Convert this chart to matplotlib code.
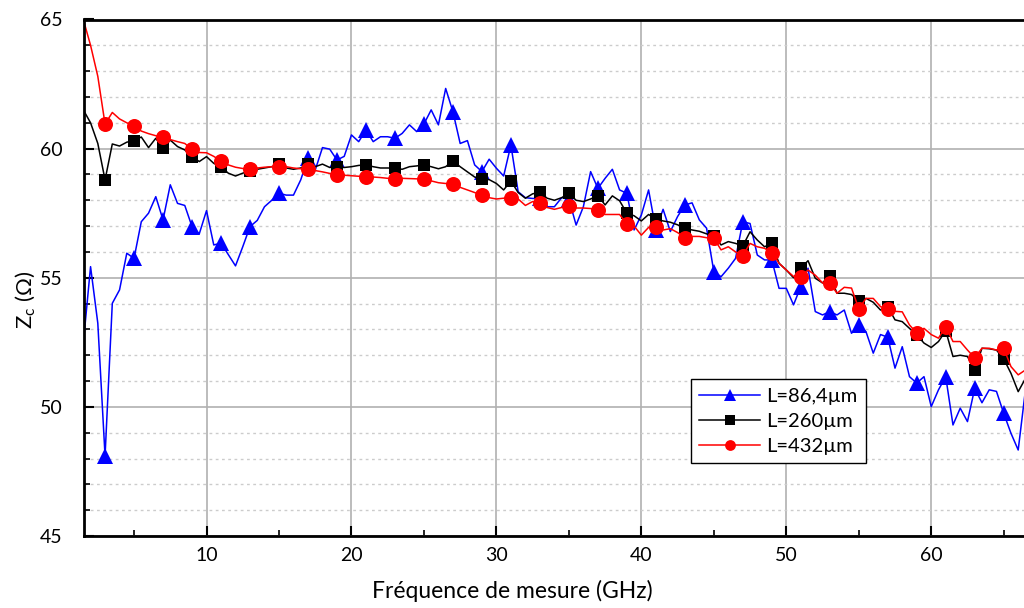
import numpy as np
import matplotlib
matplotlib.use("Agg")
import matplotlib.pyplot as plt
from matplotlib.ticker import MultipleLocator

plt.rcParams['font.family'] = ['Lato', 'DejaVu Sans']
plt.rcParams['mathtext.fontset'] = 'custom'
plt.rcParams['mathtext.rm'] = 'Lato'
plt.rcParams['mathtext.it'] = 'Lato:italic'

freq = np.arange(1.5, 66.75, 0.5)

z_86 = [52.46, 55.43, 53.24, 48.1, 54.01, 54.53, 55.95, 55.75, 57.17, 57.5,
        58.14, 57.24, 58.6, 57.88, 57.8, 56.98, 56.7, 57.6, 56.27, 56.34,
        55.9, 55.46, 56.2, 56.98, 57.22, 57.75, 58.0, 58.27, 58.2, 58.2,
        58.79, 59.63, 59.17, 60.04, 59.98, 59.56, 59.7, 60.53, 60.27, 60.72,
        60.27, 60.46, 60.46, 60.4, 60.59, 60.92, 60.66, 60.95, 61.5, 60.92,
        62.33, 61.43, 60.2, 60.31, 59.37, 59.11, 59.59, 59.24, 58.94, 60.14,
        58.33, 58.1, 58.07, 58.07, 57.75, 57.75, 58.1, 58.05, 57.04, 57.75,
        59.11, 58.46, 58.85, 59.2, 58.4, 58.27, 56.85, 57.43, 58.4, 56.85,
        57.65, 56.79, 57.37, 57.82, 57.9, 57.24, 56.92, 55.24, 55.04, 55.37,
        55.75, 57.17, 57.1, 55.88, 55.69, 55.69, 54.59, 54.59, 53.95, 54.66,
        55.37, 53.69, 53.56, 53.69, 53.56, 53.75, 52.85, 53.17, 52.91, 52.08,
        52.8, 52.7, 51.5, 52.33, 51.17, 50.92, 51.17, 50.01, 50.66, 51.17,
        49.3, 49.95, 49.43, 50.72, 50.16, 50.66, 50.6, 49.75, 48.98, 48.33,
        50.66]

z_260 = [61.5, 61.0, 60.2, 58.79, 60.18, 60.1, 60.25, 60.31, 60.45, 60.04,
         60.4, 60.01, 60.33, 60.08, 59.95, 59.69, 59.5, 59.69, 59.43, 59.3,
         59.05, 58.94, 59.05, 59.13, 59.2, 59.25, 59.3, 59.4, 59.25, 59.2,
         59.25, 59.41, 59.3, 59.4, 59.27, 59.3, 59.27, 59.3, 59.35, 59.37,
         59.3, 59.25, 59.25, 59.24, 59.2, 59.3, 59.33, 59.37, 59.3, 59.22,
         59.3, 59.53, 59.3, 59.1, 58.9, 58.81, 58.8, 58.65, 58.4, 58.75,
         58.3, 58.08, 58.25, 58.31, 58.08, 58.0, 58.1, 58.27, 58.0, 57.95,
         58.05, 58.18, 57.82, 58.17, 57.98, 57.5, 57.4, 57.2, 57.45, 57.27,
         57.2, 57.15, 57.05, 56.92, 56.85, 56.8, 56.7, 56.62, 56.27, 56.4,
         56.33, 56.23, 56.78, 56.46, 56.2, 56.33, 55.56, 55.3, 55.0, 55.37,
         55.66, 54.98, 54.8, 55.07, 54.4, 54.4, 54.35, 54.1, 54.2, 54.05,
         53.75, 53.88, 53.37, 53.3, 53.04, 52.79, 52.47, 52.3, 52.53, 52.95,
         51.95, 52.0, 51.95, 51.43, 52.27, 52.25, 52.2, 51.86, 51.3, 50.59,
         51.1]

z_432 = [65.0, 64.0, 62.8, 60.95, 61.4, 61.15, 61.0, 60.88, 60.68, 60.58,
         60.5, 60.46, 60.35, 60.27, 60.2, 59.97, 59.85, 59.84, 59.7, 59.52,
         59.37, 59.28, 59.23, 59.22, 59.25, 59.28, 59.3, 59.28, 59.3, 59.25,
         59.22, 59.2, 59.15, 59.1, 59.04, 58.98, 58.97, 58.95, 58.93, 58.91,
         58.9, 58.88, 58.85, 58.82, 58.85, 58.84, 58.83, 58.83, 58.75, 58.68,
         58.65, 58.62, 58.5, 58.4, 58.3, 58.19, 58.1, 58.05, 58.08, 58.1,
         58.05, 57.8, 57.95, 57.88, 57.72, 57.65, 57.72, 57.78, 57.7, 57.7,
         57.68, 57.62, 57.45, 57.45, 57.45, 57.08, 57.0, 56.65, 56.95, 56.95,
         56.85, 56.9, 56.75, 56.55, 56.6, 56.6, 56.55, 56.53, 56.08, 56.2,
         56.0, 55.86, 56.33, 56.2, 56.14, 55.97, 55.56, 55.3, 55.05, 55.02,
         55.3, 55.1, 54.8, 54.79, 54.4, 54.63, 54.6, 53.8, 54.2, 54.2,
         53.88, 53.78, 53.7, 53.68, 53.17, 52.86, 53.04, 52.8, 52.66, 53.11,
         52.53, 52.53, 52.2, 51.9, 52.27, 52.27, 52.2, 52.27, 51.56, 51.24,
         51.43]

labels = ['L=86,4µm', 'L=260µm', 'L=432µm']
colors = ['#0000ff', '#000000', '#ff0000']
markers = ['^', 's', 'o']
msizes = [12, 9.2, 10.8]

fig = plt.figure(figsize=(10.24, 6.08), dpi=100)
ax = fig.add_axes([83.6 / 1024, 1 - 536 / 608, 1 - 83.6 / 1024, (536 - 19.5) / 608])

mark = slice(3, None, 4)
for z, lab, c, m, ms in zip([z_86, z_260, z_432], labels, colors, markers, msizes):
    ax.plot(freq, z, color=c, lw=1.1, marker=m, ms=ms, markevery=mark,
            markeredgewidth=0, label=lab, clip_on=True)

ax.set_xlim(1.52, 66.4)
ax.set_ylim(45, 65)
ax.xaxis.set_major_locator(MultipleLocator(10))
ax.xaxis.set_minor_locator(MultipleLocator(5))
ax.yaxis.set_major_locator(MultipleLocator(5))
ax.yaxis.set_minor_locator(MultipleLocator(1))

ax.grid(which='major', color='#b0b0b0', lw=1.2, ls='-')
ax.grid(which='minor', axis='y', color='#cccccc', lw=1.0, ls=(0, (2, 2.5)))
ax.set_axisbelow(True)

for s in ['left', 'bottom', 'top']:
    ax.spines[s].set_linewidth(2.0)
    ax.spines[s].set_color('black')
ax.spines['right'].set_visible(False)

ax.tick_params(which='major', direction='in', length=7, width=1.5, labelsize=14,
               top=False, right=False)
ax.tick_params(which='minor', direction='in', length=4, width=1.2, top=False, right=False)
ax.tick_params(axis='y', which='major', pad=15)
ax.tick_params(axis='x', which='major', pad=8)

fig.text(512 / 1024, 1 - 591 / 608, 'Fréquence de mesure (GHz)', ha='center', va='center',
         fontsize=16.5)
fig.text(25 / 1024, 1 - 300 / 608, r'Z$_\mathregular{c}$ (Ω)', ha='center', va='center',
         rotation=90, fontsize=16)

leg = ax.legend(loc='upper left', bbox_to_anchor=(691 / 1024, 1 - 379 / 608),
                bbox_transform=fig.transFigure, borderaxespad=0, fontsize=14.5,
                frameon=True, fancybox=False, framealpha=1, edgecolor='black',
                numpoints=1, markerscale=0.72, handlelength=3.0, handletextpad=0.3,
                labelspacing=0.4, borderpad=0.42)
leg.get_frame().set_linewidth(1.0)

fig.savefig('out.png', dpi=100)
